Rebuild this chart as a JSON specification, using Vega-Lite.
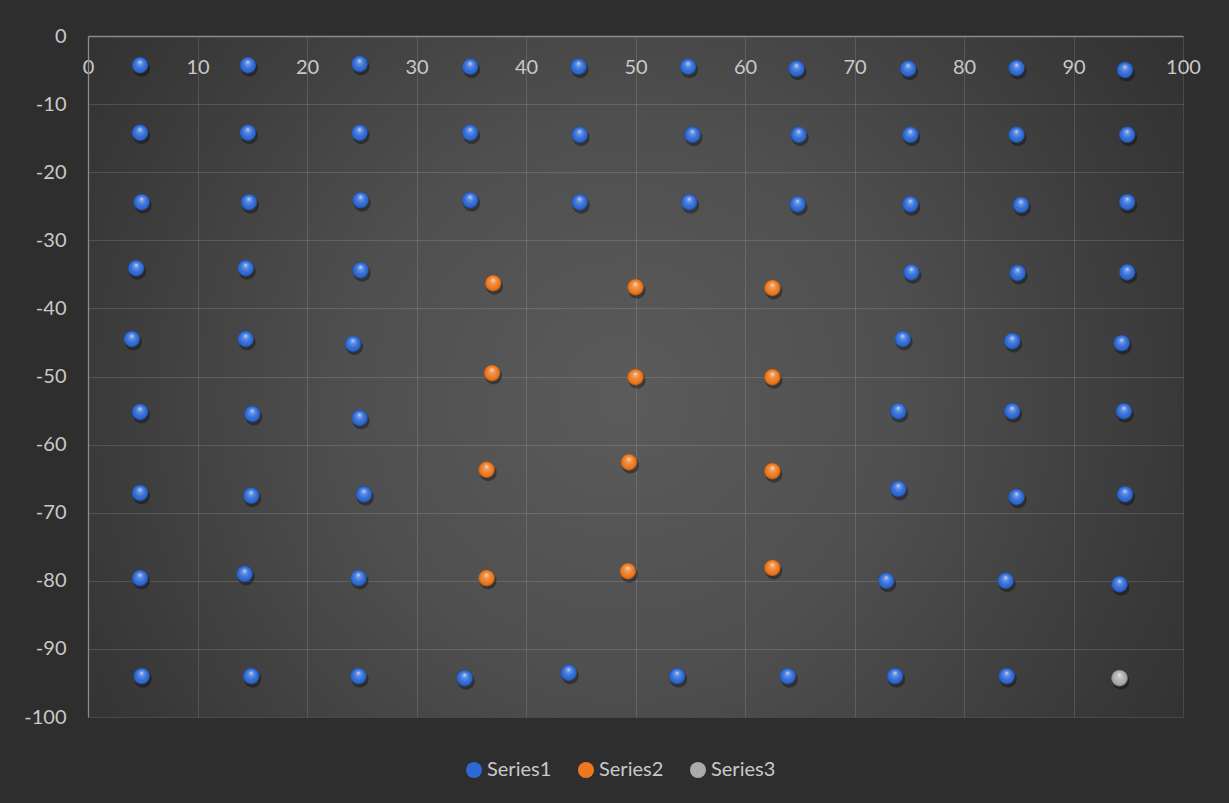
{
  "$schema": "https://vega.github.io/schema/vega-lite/v6.json",
  "autosize": {"type": "none"},
  "width": 1095,
  "height": 681,
  "padding": {"left": 88, "top": 36, "right": 46, "bottom": 86},
  "background": "#2e2e2e",
  "view": {
    "stroke": null,
    "fill": {
      "gradient": "radial",
      "x1": 0.49, "y1": 0.52, "r1": 0,
      "x2": 0.49, "y2": 0.52, "r2": 0.72,
      "stops": [
        {"offset": 0, "color": "#5b5b5b"},
        {"offset": 0.35, "color": "#4f4f4f"},
        {"offset": 0.7, "color": "#393939"},
        {"offset": 1, "color": "#282828"}
      ]
    }
  },
  "config": {
    "font": "Lato",
    "axis": {
      "labelFont": "Lato",
      "labelFontSize": 20,
      "labelColor": "#c9c9c9",
      "ticks": false,
      "title": null,
      "grid": true,
      "gridColor": "#ffffff",
      "gridOpacity": 0.13,
      "gridWidth": 1,
      "domainColor": "#8c8c8c",
      "domainWidth": 1.3
    },
    "legend": {
      "labelFont": "Lato",
      "labelFontSize": 20,
      "labelColor": "#c9c9c9"
    }
  },
  "data": {
    "values": [
      {"series": "Series1", "x": 4.75, "y": -4.3},
      {"series": "Series1", "x": 14.6, "y": -4.3},
      {"series": "Series1", "x": 24.8, "y": -4.1},
      {"series": "Series1", "x": 34.9, "y": -4.5},
      {"series": "Series1", "x": 44.8, "y": -4.5},
      {"series": "Series1", "x": 54.8, "y": -4.5},
      {"series": "Series1", "x": 64.7, "y": -4.8},
      {"series": "Series1", "x": 74.9, "y": -4.8},
      {"series": "Series1", "x": 84.8, "y": -4.7},
      {"series": "Series1", "x": 94.7, "y": -5.0},

      {"series": "Series1", "x": 4.75, "y": -14.2},
      {"series": "Series1", "x": 14.6, "y": -14.2},
      {"series": "Series1", "x": 24.8, "y": -14.2},
      {"series": "Series1", "x": 34.9, "y": -14.2},
      {"series": "Series1", "x": 44.9, "y": -14.5},
      {"series": "Series1", "x": 55.2, "y": -14.5},
      {"series": "Series1", "x": 64.9, "y": -14.5},
      {"series": "Series1", "x": 75.1, "y": -14.5},
      {"series": "Series1", "x": 84.8, "y": -14.5},
      {"series": "Series1", "x": 94.9, "y": -14.5},

      {"series": "Series1", "x": 4.9, "y": -24.4},
      {"series": "Series1", "x": 14.7, "y": -24.4},
      {"series": "Series1", "x": 24.9, "y": -24.1},
      {"series": "Series1", "x": 34.9, "y": -24.1},
      {"series": "Series1", "x": 44.9, "y": -24.4},
      {"series": "Series1", "x": 54.9, "y": -24.4},
      {"series": "Series1", "x": 64.8, "y": -24.7},
      {"series": "Series1", "x": 75.1, "y": -24.7},
      {"series": "Series1", "x": 85.2, "y": -24.8},
      {"series": "Series1", "x": 94.9, "y": -24.4},

      {"series": "Series1", "x": 4.4, "y": -34.1},
      {"series": "Series1", "x": 14.4, "y": -34.1},
      {"series": "Series1", "x": 24.9, "y": -34.4},
      {"series": "Series1", "x": 75.2, "y": -34.7},
      {"series": "Series1", "x": 84.9, "y": -34.8},
      {"series": "Series1", "x": 94.9, "y": -34.7},

      {"series": "Series1", "x": 4.0, "y": -44.5},
      {"series": "Series1", "x": 14.4, "y": -44.5},
      {"series": "Series1", "x": 24.2, "y": -45.2},
      {"series": "Series1", "x": 74.4, "y": -44.5},
      {"series": "Series1", "x": 84.4, "y": -44.8},
      {"series": "Series1", "x": 94.4, "y": -45.1},

      {"series": "Series1", "x": 4.75, "y": -55.2},
      {"series": "Series1", "x": 15.0, "y": -55.5},
      {"series": "Series1", "x": 24.8, "y": -56.1},
      {"series": "Series1", "x": 74.0, "y": -55.1},
      {"series": "Series1", "x": 84.4, "y": -55.1},
      {"series": "Series1", "x": 94.6, "y": -55.1},

      {"series": "Series1", "x": 4.75, "y": -67.1},
      {"series": "Series1", "x": 14.9, "y": -67.5},
      {"series": "Series1", "x": 25.2, "y": -67.3},
      {"series": "Series1", "x": 74.0, "y": -66.5},
      {"series": "Series1", "x": 84.8, "y": -67.7},
      {"series": "Series1", "x": 94.7, "y": -67.3},

      {"series": "Series1", "x": 4.75, "y": -79.6},
      {"series": "Series1", "x": 14.3, "y": -79.0},
      {"series": "Series1", "x": 24.7, "y": -79.6},
      {"series": "Series1", "x": 72.9, "y": -80.0},
      {"series": "Series1", "x": 83.8, "y": -80.0},
      {"series": "Series1", "x": 94.2, "y": -80.5},

      {"series": "Series1", "x": 4.9, "y": -94.0},
      {"series": "Series1", "x": 14.9, "y": -94.0},
      {"series": "Series1", "x": 24.7, "y": -94.0},
      {"series": "Series1", "x": 34.4, "y": -94.3},
      {"series": "Series1", "x": 43.9, "y": -93.5},
      {"series": "Series1", "x": 53.8, "y": -94.0},
      {"series": "Series1", "x": 63.9, "y": -94.0},
      {"series": "Series1", "x": 73.7, "y": -94.0},
      {"series": "Series1", "x": 83.9, "y": -94.0},

      {"series": "Series2", "x": 37.0, "y": -36.3},
      {"series": "Series2", "x": 50.0, "y": -36.9},
      {"series": "Series2", "x": 62.5, "y": -37.0},
      {"series": "Series2", "x": 36.9, "y": -49.5},
      {"series": "Series2", "x": 50.0, "y": -50.1},
      {"series": "Series2", "x": 62.5, "y": -50.1},
      {"series": "Series2", "x": 36.4, "y": -63.7},
      {"series": "Series2", "x": 49.4, "y": -62.6},
      {"series": "Series2", "x": 62.5, "y": -63.9},
      {"series": "Series2", "x": 36.4, "y": -79.6},
      {"series": "Series2", "x": 49.3, "y": -78.6},
      {"series": "Series2", "x": 62.5, "y": -78.1},

      {"series": "Series3", "x": 94.2, "y": -94.3}
    ]
  },
  "encoding": {
    "x": {
      "field": "x",
      "type": "quantitative",
      "scale": {"domain": [0, 100], "nice": false, "zero": false},
      "axis": {
        "orient": "top",
        "values": [0, 10, 20, 30, 40, 50, 60, 70, 80, 90, 100],
        "labelExpr": "toString(datum.value)",
        "labelBaseline": "middle",
        "labelPadding": -31,
        "labelFlush": false,
        "labelOverlap": false
      }
    },
    "y": {
      "field": "y",
      "type": "quantitative",
      "scale": {"domain": [-100, 0], "nice": false, "zero": false},
      "axis": {
        "orient": "left",
        "values": [0, -10, -20, -30, -40, -50, -60, -70, -80, -90, -100],
        "labelExpr": "toString(datum.value)",
        "labelBaseline": "middle",
        "labelPadding": 22,
        "labelFlush": false,
        "labelOverlap": false
      }
    }
  },
  "layer": [
    {
      "mark": {
        "type": "point",
        "shape": "circle",
        "filled": true,
        "size": 290,
        "color": "#000000",
        "opacity": 0.35,
        "xOffset": 1.5,
        "yOffset": 3
      }
    },
    {
      "mark": {"type": "point", "shape": "circle", "filled": true, "size": 270, "opacity": 1},
      "encoding": {
        "color": {
          "field": "series",
          "type": "nominal",
          "scale": {
            "domain": ["Series1", "Series2", "Series3"],
            "range": ["#2d69d6", "#ee781d", "#ababab"]
          },
          "legend": {
            "title": null,
            "orient": "none",
            "legendX": 376,
            "legendY": 724,
            "direction": "horizontal",
            "symbolType": "circle",
            "symbolSize": 256,
            "symbolStrokeWidth": 0,
            "symbolOpacity": 1,
            "labelOffset": 3,
            "columnPadding": 24
          }
        }
      }
    },
    {
      "mark": {
        "type": "point",
        "shape": "circle",
        "filled": true,
        "size": 270,
        "opacity": 1,
        "fill": {
          "gradient": "radial",
          "x1": 0.5, "y1": 0.28, "r1": 0,
          "x2": 0.5, "y2": 0.5, "r2": 0.5,
          "stops": [
            {"offset": 0, "color": "rgba(255,255,255,0.75)"},
            {"offset": 0.3, "color": "rgba(255,255,255,0.25)"},
            {"offset": 0.72, "color": "rgba(255,255,255,0)"},
            {"offset": 0.9, "color": "rgba(0,0,0,0.12)"},
            {"offset": 1, "color": "rgba(0,0,0,0.35)"}
          ]
        }
      }
    }
  ]
}
